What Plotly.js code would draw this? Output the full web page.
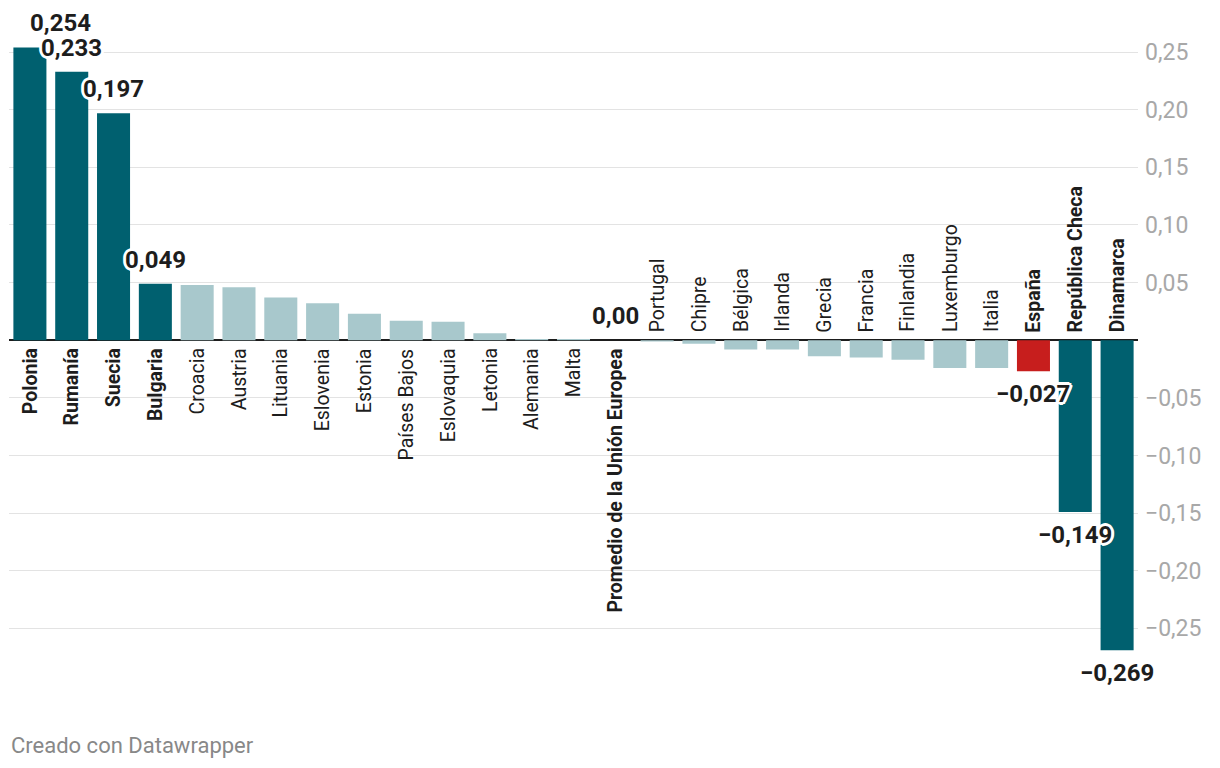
<!DOCTYPE html>
<html>
<head>
<meta charset="utf-8">
<script src="https://cdn.plot.ly/plotly-3.0.1.min.js"></script>
<style>
html,body{margin:0;padding:0;background:#fff;}
#chart{width:1220px;height:768px;}
</style>
</head>
<body>
<div id="chart"></div>
<script>
var categories = ["Polonia","Rumanía","Suecia","Bulgaria","Croacia","Austria","Lituania","Eslovenia","Estonia","Países Bajos","Eslovaquia","Letonia","Alemania","Malta","Promedio de la Unión Europea","Portugal","Chipre","Bélgica","Irlanda","Grecia","Francia","Finlandia","Luxemburgo","Italia","España","República Checa","Dinamarca"];
var values = [0.254,0.233,0.197,0.049,0.048,0.046,0.037,0.032,0.023,0.017,0.016,0.006,0.001,0.001,0.0,-0.001,-0.003,-0.008,-0.008,-0.014,-0.015,-0.017,-0.024,-0.024,-0.027,-0.149,-0.269];
var highlighted = [1,1,1,1,0,0,0,0,0,0,0,0,0,0,2,0,0,0,0,0,0,0,0,0,3,1,1];
var valueLabels = ["0,254","0,233","0,197","0,049","","","","","","","","","","","0,00","","","","","","","","","","−0,027","−0,149","−0,269"];
var tickValues = [-0.25,-0.2,-0.15,-0.1,-0.05,0.05,0.1,0.15,0.2,0.25];

var DARK = "#00606f", LIGHT = "#a8c8cc", RED = "#c71e1d";
var colors = highlighted.map(function(h){ return h===3 ? RED : (h===1 ? DARK : LIGHT); });
var halo = "2px 0 0 #fff, -2px 0 0 #fff, 0 2px 0 #fff, 0 -2px 0 #fff, 2px 2px 0 #fff, -2px -2px 0 #fff, 2px -2px 0 #fff, -2px 2px 0 #fff, 3px 0 0 #fff, -3px 0 0 #fff, 0 3px 0 #fff, 0 -3px 0 #fff";

var annotations = [];
categories.forEach(function(c, i){
  var v = values[i];
  var pos = v >= 0 && i <= 14;
  annotations.push({
    x: i, y: 0, xref: "x", yref: "y",
    text: c, showarrow: false, textangle: -90,
    xanchor: "center", yanchor: pos ? "top" : "bottom",
    yshift: pos ? -6 : 6,
    font: {family: "Roboto", size: 19.5, color: "#1d1d1d", weight: highlighted[i] ? 700 : 400}
  });
  if (valueLabels[i]) {
    annotations.push({
      x: i, y: v, xref: "x", yref: "y",
      text: valueLabels[i], showarrow: false,
      xanchor: "center", yanchor: "middle",
      yshift: v >= 0 ? 24 : -23,
      xshift: i === 0 ? 31 : 0,
      font: {family: "Roboto", size: 24, color: "#1d1d1d", weight: 700, shadow: halo}
    });
  }
});
annotations.push({
  xref: "paper", yref: "paper", x: 0, y: -0.13, xanchor: "left", yanchor: "middle",
  showarrow: false, text: "Creado con Datawrapper",
  font: {family: "Roboto", size: 22, color: "#888888"}
});

var trace = {
  type: "bar",
  x: categories.map(function(c,i){return i;}),
  y: values,
  marker: {color: colors},
  hoverinfo: "skip"
};

var layout = {
  width: 1220, height: 768,
  margin: {l: 9, r: 82, t: 29, b: 105.4, pad: 0},
  paper_bgcolor: "#fff", plot_bgcolor: "#fff",
  separators: ",.",
  bargap: 0.21,
  showlegend: false,
  font: {family: "Roboto"},
  xaxis: {range: [-0.5, 26.5], showticklabels: false, showgrid: false, zeroline: false, fixedrange: true},
  yaxis: {
    range: [-0.28, 0.27], side: "right", tickvals: tickValues, tickformat: ".2f",
    showgrid: true, gridcolor: "#e3e3e3", gridwidth: 1,
    zeroline: true, zerolinecolor: "#1d1d1d", zerolinewidth: 2,
    ticks: "", ticklabelstandoff: 6,
    tickfont: {family: "Roboto", size: 23, color: "#a8a8a8"}, fixedrange: true
  },
  annotations: annotations
};

Plotly.newPlot("chart", [trace], layout, {displayModeBar: false, staticPlot: true});
</script>
</body>
</html>
